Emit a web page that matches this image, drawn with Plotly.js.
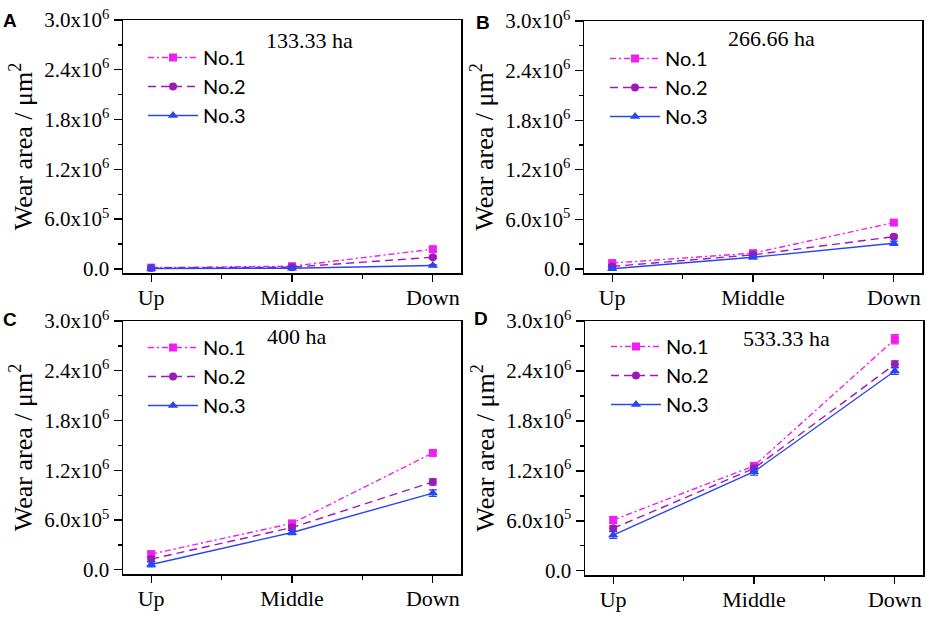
<!DOCTYPE html>
<html>
<head>
<meta charset="utf-8">
<script src="https://cdn.plot.ly/plotly-3.0.1.min.js"></script>
<style>html,body{margin:0;padding:0;background:#fff;}#chart{width:927px;height:618px;}</style>
</head>
<body>
<div id="chart"></div>
<script>
// ---- data ----
const categories = ['Up', 'Middle', 'Down'];
const seriesNames = ['No.1', 'No.2', 'No.3'];
const panelLetters = ['A', 'B', 'C', 'D'];
const areaLabels = ['133.33 ha', '266.66 ha', '400 ha', '533.33 ha'];

// Panel A (133.33 ha)
const A_no1 = [15000, 32000, 237000];
const A_no2 = [10000, 20000, 140000];
const A_no3 = [5000, 8000, 40000];
const A_err1 = [12000, 12000, 20000];
const A_err2 = [10000, 10000, 15000];
const A_err3 = [10000, 10000, 12000];

// Panel B (266.66 ha)
const B_no1 = [70000, 190000, 560000];
const B_no2 = [30000, 170000, 390000];
const B_no3 = [2000, 140000, 310000];
const B_err1 = [20000, 20000, 25000];
const B_err2 = [20000, 20000, 20000];
const B_err3 = [15000, 20000, 25000];

// Panel C (400 ha)
const C_no1 = [190000, 560000, 1410000];
const C_no2 = [130000, 510000, 1060000];
const C_no3 = [65000, 450000, 925000];
const C_err1 = [30000, 30000, 35000];
const C_err2 = [30000, 30000, 35000];
const C_err3 = [30000, 25000, 40000];

// Panel D (533.33 ha)
const D_no1 = [610000, 1260000, 2780000];
const D_no2 = [510000, 1230000, 2480000];
const D_no3 = [430000, 1190000, 2400000];
const D_err1 = [40000, 40000, 55000];
const D_err2 = [30000, 35000, 40000];
const D_err3 = [40000, 40000, 40000];

const yTickVals = [0, 600000, 1200000, 1800000, 2400000, 3000000];
const yTickText = ['0.0', '6.0x10<sup>5</sup>', '1.2x10<sup>6</sup>', '1.8x10<sup>6</sup>', '2.4x10<sup>6</sup>', '3.0x10<sup>6</sup>'];

const panelValues = [
  [A_no1, A_no2, A_no3],
  [B_no1, B_no2, B_no3],
  [C_no1, C_no2, C_no3],
  [D_no1, D_no2, D_no3]
];
const panelErrors = [
  [A_err1, A_err2, A_err3],
  [B_err1, B_err2, B_err3],
  [C_err1, C_err2, C_err3],
  [D_err1, D_err2, D_err3]
];

// ---- styles ----
const colors = ['#f01ef0', '#9a1cb4', '#2a46f0'];
const dashes = ['6px,3px,2px,3px', '8px,5px', 'solid'];
const symbols = ['square', 'circle', 'triangle-up'];
const markerSizes = [8, 8, 9];
const W = 927, H = 618;
const boxes = [ // [left, right, top, bottom] in px
  [123, 461, 20, 273],
  [584, 922, 21, 273],
  [123, 461, 321, 574],
  [585, 923, 321, 575]
];
const legendPos = [[143, 38], [605, 39], [143, 328], [606, 327]];
const annPos = [[309, 40], [771, 39], [297, 336], [786, 338]];
const letterPos = [[10, 21], [483, 22], [10, 319], [481, 318]];

const xIdx = categories.map((c, i) => i);
const serif = '"Liberation Serif", "Times New Roman", Times, serif';

const traces = [];
const layout = {
  width: W, height: H,
  margin: {l: 0, r: 0, t: 0, b: 0},
  paper_bgcolor: '#fff', plot_bgcolor: '#fff',
  showlegend: true,
  annotations: []
};

for (let p = 0; p < 4; p++) {
  const sfx = p === 0 ? '' : String(p + 1);
  const legName = 'legend' + sfx;
  for (let s = 0; s < 3; s++) {
    traces.push({
      type: 'scatter', mode: 'lines+markers',
      x: xIdx, y: panelValues[p][s],
      name: seriesNames[s],
      xaxis: 'x' + sfx, yaxis: 'y' + sfx,
      legend: legName,
      legendgroup: 'g' + p + s,
      line: {color: colors[s], width: 1.4, dash: dashes[s]},
      marker: {symbol: symbols[s], size: markerSizes[s], color: colors[s]},
      error_y: {type: 'data', array: panelErrors[p][s], visible: true, color: colors[s], thickness: 1.3, width: 4}
    });
  }
  const b = boxes[p];
  layout['xaxis' + sfx] = {
    domain: [b[0] / W, b[1] / W],
    anchor: 'y' + sfx,
    range: [-0.2, 2.2],
    tickmode: 'array', tickvals: xIdx, ticktext: categories,
    ticks: 'outside', ticklen: 7, tickwidth: 1.3, tickcolor: '#000',
    minor: {tickmode: 'array', tickvals: [0.5, 1.5], ticks: 'outside', ticklen: 4, tickwidth: 1.3, tickcolor: '#000'},
    showline: true, linecolor: '#000', linewidth: 1.5, mirror: true,
    showgrid: false, zeroline: false,
    ticklabelstandoff: -3,
    tickfont: {family: serif, size: 22, color: '#000'}
  };
  layout['yaxis' + sfx] = {
    domain: [1 - b[3] / H, 1 - b[2] / H],
    anchor: 'x' + sfx,
    range: [-50000, 3000000],
    tickmode: 'array', tickvals: yTickVals, ticktext: yTickText,
    ticks: 'outside', ticklen: 8, tickwidth: 1.3, tickcolor: '#000',
    minor: {tickmode: 'array', tickvals: [300000, 900000, 1500000, 2100000, 2700000], ticks: 'outside', ticklen: 4, tickwidth: 1.3, tickcolor: '#000'},
    showline: true, linecolor: '#000', linewidth: 1.5, mirror: true,
    showgrid: false, zeroline: false,
    tickfont: {family: serif, size: 21, color: '#000'},
    title: {text: 'Wear area / μm<sup>2</sup>', font: {family: serif, size: 26, color: '#000'}, standoff: 4}
  };
  layout[legName] = {
    x: legendPos[p][0] / W, y: 1 - legendPos[p][1] / H,
    xanchor: 'left', yanchor: 'top',
    bgcolor: 'rgba(0,0,0,0)',
    font: {family: 'Lato, "Open Sans", sans-serif', size: 20, color: '#000'},
    itemwidth: 50,
    tracegroupgap: 0
  };
  layout.annotations.push({
    xref: 'paper', yref: 'paper', x: annPos[p][0] / W, y: 1 - annPos[p][1] / H,
    xanchor: 'center', yanchor: 'middle', showarrow: false,
    text: areaLabels[p], font: {family: serif, size: 22, color: '#000'}
  });
  layout.annotations.push({
    xref: 'paper', yref: 'paper', x: letterPos[p][0] / W, y: 1 - letterPos[p][1] / H,
    xanchor: 'center', yanchor: 'middle', showarrow: false,
    text: '<b>' + panelLetters[p] + '</b>', font: {family: '"Liberation Sans", Arial, sans-serif', size: 19, color: '#000'}
  });
}

Plotly.newPlot('chart', traces, layout, {displayModeBar: false, staticPlot: true});
</script>
</body>
</html>
